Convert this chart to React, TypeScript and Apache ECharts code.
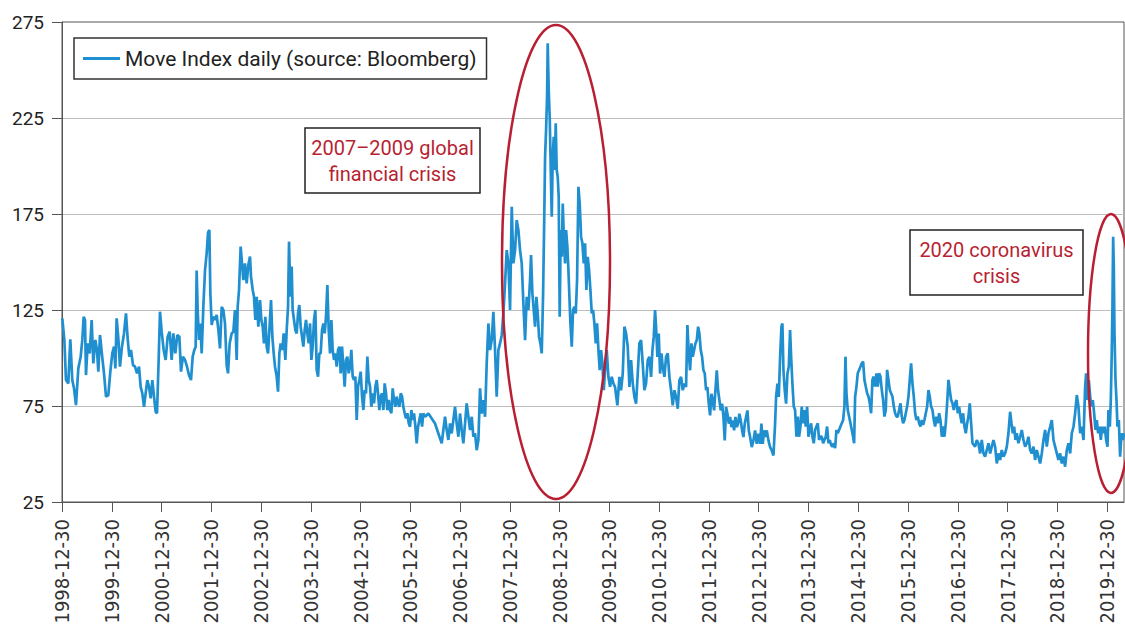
import React, { useEffect, useRef } from "react";
import * as echarts from "echarts";

const seriesName = "Move Index daily (source: Bloomberg)";

// x values are decimal years; the label "YYYY-12-30" sits at YYYY+1
const seg1Years = [1999.006,1999.047,1999.080,1999.127,1999.167,1999.207,1999.241,1999.281,1999.328,1999.375,1999.408,1999.435,1999.462,1999.482,1999.516,1999.556,1999.596,1999.629,1999.670,1999.703,1999.730,1999.763,1999.804,1999.844,1999.884,1999.931,1999.971,2000.011,2000.045,2000.072,2000.098,2000.132,2000.165,2000.205,2000.246,2000.286,2000.319,2000.353,2000.386,2000.427,2000.467,2000.507,2000.547,2000.581,2000.614,2000.648,2000.681,2000.715,2000.748,2000.782,2000.815,2000.849,2000.882,2000.909,2000.942,2000.969,2001.003,2001.043,2001.083,2001.123,2001.163,2001.204,2001.237,2001.277,2001.318,2001.358,2001.391,2001.431,2001.472,2001.512,2001.552,2001.592,2001.626,2001.659,2001.686,2001.706,2001.726,2001.753,2001.780,2001.807,2001.840,2001.874,2001.907,2001.934,2001.961,2001.981,2002.008,2002.041,2002.075,2002.108,2002.142,2002.175,2002.209,2002.242,2002.275,2002.309,2002.336,2002.369,2002.409,2002.443,2002.476,2002.510,2002.530,2002.557,2002.590];
const seg1Values = [120.7,109.4,88.5,86.8,109.7,88.5,84.2,75.5,94.6,100.7,109.4,121.5,119.8,91.1,107.6,102.4,119.8,97.2,109.4,104.2,92.9,112.0,101.6,92.0,79.9,80.7,92.9,102.4,105.9,94.6,120.7,110.2,95.5,105.9,112.8,123.3,110.2,100.7,104.2,96.3,95.5,92.0,95.5,85.0,81.6,74.6,81.6,88.5,85.0,79.0,88.5,79.9,72.0,71.2,99.0,124.1,113.7,104.2,99.0,111.1,113.7,99.0,112.8,102.4,112.0,111.1,92.9,100.7,99.0,95.5,91.1,88.5,100.7,104.2,105.9,145.5,125.0,109.4,118.0,102.4,126.7,145.8,154.5,165.3,166.7,133.7,117.2,121.5,119.8,122.4,114.6,105.0,126.7,125.0,118.0,96.3,92.0,107.6,112.8,113.7,125.0,99.0,126.7,135.4,158.0];

const seg2Years = [2002.644,2002.677,2002.711,2002.744,2002.778,2002.798,2002.832,2002.858,2002.885,2002.912,2002.945,2002.979,2003.006,2003.033,2003.059,2003.086,2003.113,2003.140,2003.167,2003.200,2003.227,2003.254,2003.280,2003.314,2003.341,2003.368,2003.394,2003.428,2003.455,2003.488,2003.515,2003.542,2003.562,2003.589,2003.615,2003.635,2003.662,2003.689,2003.716,2003.743,2003.769,2003.796,2003.823,2003.850,2003.877,2003.903,2003.930,2003.957,2003.984,2004.011,2004.037,2004.064,2004.091,2004.118,2004.145,2004.171,2004.198,2004.225,2004.252,2004.279,2004.305,2004.332,2004.359,2004.386,2004.413,2004.439,2004.466,2004.493,2004.520,2004.547,2004.573,2004.600,2004.627,2004.654,2004.680,2004.707,2004.734,2004.761,2004.788,2004.814,2004.841,2004.868,2004.895,2004.922,2004.948,2004.975,2005.002,2005.029,2005.056,2005.082,2005.109,2005.136,2005.163,2005.190,2005.216,2005.243,2005.270,2005.297,2005.324,2005.350,2005.377,2005.404,2005.431,2005.458,2005.484,2005.511,2005.538,2005.565,2005.592,2005.618,2005.645,2005.672,2005.699,2005.726,2005.752,2005.779,2005.806,2005.833,2005.859,2005.886,2005.913,2005.940,2005.967,2005.993,2006.020,2006.047,2006.074,2006.101,2006.127,2006.154,2006.181,2006.208,2006.235,2006.261,2006.295];
const seg2Values = [140.6,149.3,138.9,148.4,152.8,142.4,135.4,131.9,119.8,131.9,116.3,130.2,119.8,116.3,107.6,121.5,105.9,102.4,114.6,130.2,111.1,102.4,95.5,90.3,82.5,102.4,107.6,104.2,112.8,99.0,114.6,126.7,160.6,131.9,147.6,125.0,119.8,114.6,112.8,123.3,127.6,116.3,111.1,105.9,114.6,119.8,112.8,107.6,118.0,99.0,105.9,119.8,125.0,93.7,90.3,102.4,102.4,114.6,118.0,112.8,121.5,138.0,114.6,102.4,119.8,104.2,99.0,102.4,95.5,104.2,105.9,92.0,105.9,95.5,85.1,99.0,100.7,92.0,95.5,104.2,90.3,88.5,90.3,67.7,85.1,88.5,92.9,79.9,72.9,83.3,81.6,100.7,88.5,85.1,74.6,81.6,76.4,85.1,88.5,81.6,72.9,79.9,81.6,72.9,86.8,81.6,72.9,78.1,72.9,71.2,84.2,78.1,74.6,79.9,76.4,74.6,81.6,79.9,74.6,71.2,68.6,71.2,66.0,64.2,72.9,67.7,71.2,64.2,55.5,64.2,67.7,71.2,64.2,71.2,69.4];

const seg3Years = [2006.362,2006.429,2006.496,2006.563,2006.630,2006.663,2006.697,2006.730,2006.764,2006.797,2006.831,2006.864,2006.898,2006.931,2006.965,2006.998,2007.032,2007.065,2007.099,2007.132,2007.166,2007.199,2007.233,2007.266,2007.300,2007.333,2007.367,2007.400,2007.434,2007.467,2007.501,2007.534,2007.568,2007.601,2007.635,2007.668,2007.702,2007.735,2007.769,2007.802,2007.836,2007.869,2007.903,2007.936,2007.970,2008.003,2008.037,2008.070,2008.104,2008.137,2008.171,2008.204,2008.238,2008.271,2008.305,2008.338,2008.372,2008.405,2008.425,2008.452,2008.479,2008.506,2008.532,2008.559,2008.586,2008.613,2008.640,2008.666,2008.687,2008.707,2008.727,2008.747,2008.760,2008.780,2008.800,2008.821,2008.841,2008.861,2008.881,2008.901,2008.921,2008.941,2008.961,2008.981,2009.001,2009.021,2009.042,2009.062,2009.088,2009.109,2009.129,2009.155,2009.176,2009.196,2009.216,2009.243,2009.269,2009.296,2009.323,2009.350,2009.377,2009.403,2009.430,2009.457,2009.484,2009.511,2009.537,2009.564,2009.591,2009.618,2009.645,2009.671,2009.698,2009.725,2009.752,2009.779,2009.805,2009.832,2009.859,2009.886,2009.913,2009.946,2009.979,2010.013,2010.046,2010.080];
const seg3Values = [71.1,68.5,65.9,60.7,55.5,62.5,69.4,62.5,57.3,65.9,60.7,67.7,74.6,65.9,59.0,71.1,62.5,55.5,65.9,76.4,69.4,62.5,69.4,59.0,60.7,52.0,57.3,84.2,71.1,78.1,69.4,97.2,118.0,104.1,109.3,124.1,104.1,79.8,104.1,107.6,111.9,123.2,138.9,156.2,149.3,125.0,178.8,149.3,156.2,171.8,166.6,156.2,149.3,128.4,109.3,131.9,125.0,140.6,153.6,133.6,125.0,116.3,131.9,123.2,111.1,107.6,102.4,131.9,166.6,204.8,218.7,236.1,263.9,239.6,225.7,197.9,173.6,204.8,215.2,197.9,222.2,197.9,194.4,184.0,121.5,166.6,152.7,180.5,159.7,149.3,166.6,157.9,145.8,131.9,118.0,105.9,125.0,126.7,123.2,140.6,189.2,180.5,163.2,159.7,149.3,159.7,135.4,152.7,145.8,135.4,123.2,125.0,118.0,107.6,118.0,104.1,93.7,104.1,97.2,83.3,93.7,104.1,90.2,85.0,90.2,86.8];

const seg4Years = [2010.113,2010.160,2010.201,2010.234,2010.268,2010.301,2010.335,2010.368,2010.402,2010.435,2010.469,2010.502,2010.536,2010.569,2010.602,2010.636,2010.669,2010.703,2010.736,2010.770,2010.803,2010.837,2010.864,2010.891,2010.917,2010.937,2010.964,2010.991,2011.018,2011.045,2011.071,2011.105,2011.138,2011.172,2011.205,2011.239,2011.272,2011.306,2011.339,2011.373,2011.406,2011.440,2011.473,2011.507,2011.540,2011.567,2011.594,2011.621,2011.648,2011.674,2011.701,2011.728,2011.755,2011.782,2011.808,2011.835,2011.862,2011.889,2011.916,2011.942,2011.969,2011.996,2012.023,2012.050,2012.076,2012.103,2012.130,2012.157,2012.183,2012.210,2012.237,2012.264,2012.291,2012.317,2012.344,2012.371,2012.398,2012.425,2012.451,2012.478,2012.505,2012.532,2012.559,2012.585,2012.612,2012.639,2012.666,2012.693,2012.719,2012.746,2012.773,2012.800,2012.827,2012.860,2012.894,2012.927,2012.961,2012.994,2013.028,2013.054,2013.081,2013.108,2013.135,2013.162,2013.195,2013.229,2013.262,2013.296,2013.329,2013.349,2013.376,2013.403,2013.430,2013.456,2013.476,2013.497,2013.523,2013.550,2013.577,2013.604];
const seg4Values = [84.9,75.3,90.2,83.2,91.9,116.3,112.8,105.8,84.9,98.9,86.7,79.7,76.2,91.9,107.6,109.3,97.1,83.2,86.7,98.9,100.6,90.2,104.1,111.1,125.0,116.3,100.6,112.8,91.9,102.4,95.4,90.2,100.6,102.4,90.2,83.2,75.3,83.2,79.7,73.6,88.4,90.2,83.2,86.7,84.9,117.2,102.4,93.6,107.6,100.6,104.1,107.6,109.3,116.3,112.8,104.1,100.6,93.6,91.9,83.2,84.9,76.2,70.1,81.4,78.0,72.7,83.2,93.6,83.2,78.0,72.7,76.2,69.3,57.1,74.5,71.0,65.8,69.3,64.0,67.5,62.3,69.3,64.0,65.8,71.0,67.5,62.3,58.8,65.8,69.3,72.7,62.3,58.8,53.6,57.1,62.3,55.3,60.5,55.3,65.8,55.3,62.3,58.8,62.3,57.1,53.6,51.8,49.2,65.8,79.7,86.7,79.7,100.6,116.3,118.0,93.6,83.2,76.2,91.9,95.4];

const seg5Years = [2013.630,2013.651,2013.677,2013.704,2013.731,2013.758,2013.785,2013.811,2013.838,2013.865,2013.892,2013.919,2013.945,2013.972,2013.999,2014.026,2014.053,2014.079,2014.106,2014.133,2014.160,2014.187,2014.213,2014.240,2014.267,2014.294,2014.320,2014.347,2014.374,2014.401,2014.428,2014.454,2014.481,2014.508,2014.535,2014.562,2014.588,2014.615,2014.642,2014.669,2014.696,2014.722,2014.743,2014.763,2014.789,2014.816,2014.843,2014.870,2014.897,2014.917,2014.937,2014.964,2014.990,2015.017,2015.044,2015.071,2015.098,2015.124,2015.151,2015.178,2015.205,2015.232,2015.258,2015.285,2015.312,2015.339,2015.366,2015.392,2015.419,2015.446,2015.473,2015.500,2015.526,2015.553,2015.580,2015.607,2015.634,2015.660,2015.687,2015.714,2015.741,2015.768,2015.794,2015.821,2015.848,2015.875,2015.901,2015.928,2015.955,2015.982,2016.009,2016.035,2016.062,2016.089,2016.116,2016.143,2016.169,2016.196,2016.223,2016.250,2016.277,2016.303,2016.330,2016.357,2016.384,2016.411,2016.437,2016.464,2016.491,2016.518,2016.545,2016.571,2016.598,2016.625,2016.652,2016.679,2016.705,2016.732,2016.759,2016.786,2016.813,2016.839,2016.866,2016.893,2016.920,2016.947,2016.973,2017.000,2017.027,2017.054,2017.080,2017.107,2017.134,2017.161,2017.188,2017.214,2017.241,2017.268,2017.295,2017.322];
const seg5Values = [114.6,100.7,86.8,74.7,72.9,59.0,69.5,59.0,64.3,74.7,66.0,72.9,64.3,74.7,59.0,62.5,66.0,59.0,55.6,62.5,64.3,66.0,57.3,59.0,59.0,55.6,57.3,59.0,64.3,55.6,57.3,54.7,53.8,55.6,53.0,62.5,60.8,62.5,64.3,66.0,67.7,74.7,100.7,81.6,72.9,69.5,66.0,62.5,59.0,55.6,79.9,85.1,92.0,93.8,95.5,97.2,98.1,88.6,85.1,81.6,79.9,76.4,71.2,88.6,90.3,85.1,92.0,85.1,92.0,90.3,83.3,78.1,69.5,72.9,93.8,88.6,83.3,81.6,79.9,74.7,71.2,69.5,69.5,72.9,76.4,69.5,66.0,67.7,71.2,74.7,79.9,88.6,97.2,86.8,79.9,71.2,67.7,69.5,66.0,64.3,67.7,65.1,67.7,71.2,74.7,83.3,79.9,74.7,72.9,67.7,64.3,69.5,66.0,71.2,67.7,59.0,64.3,59.0,66.0,76.4,88.6,83.3,78.1,76.4,72.9,76.4,78.1,71.2,74.7,69.5,66.0,71.2,64.3,60.8,66.0,69.5,76.4,66.0,55.6,54.7];

const seg6Years = [2017.348,2017.382,2017.415,2017.449,2017.482,2017.516,2017.549,2017.583,2017.616,2017.650,2017.683,2017.717,2017.750,2017.784,2017.817,2017.851,2017.884,2017.918,2017.951,2017.985,2018.018,2018.052,2018.079,2018.105,2018.132,2018.159,2018.186,2018.219,2018.253,2018.286,2018.320,2018.353,2018.387,2018.420,2018.454,2018.487,2018.521,2018.554,2018.588,2018.621,2018.655,2018.688,2018.722,2018.755,2018.789,2018.822,2018.856,2018.889,2018.923,2018.956,2018.990,2019.023,2019.057,2019.090,2019.124,2019.157,2019.191,2019.224,2019.258,2019.291,2019.325,2019.358,2019.392,2019.425,2019.459,2019.492,2019.526,2019.559,2019.579,2019.606,2019.633,2019.660,2019.686,2019.713,2019.740,2019.767,2019.794,2019.820,2019.847,2019.874,2019.901,2019.928,2019.954,2019.981,2020.008,2020.028,2020.055,2020.075,2020.095,2020.108,2020.122,2020.135,2020.149,2020.169,2020.189,2020.209,2020.236,2020.262,2020.289,2020.316,2020.343];
const seg6Values = [53.8,57.3,55.6,50.3,57.3,50.3,48.6,52.1,55.6,50.3,53.8,57.3,53.8,45.1,50.3,46.9,52.1,48.6,50.3,53.8,60.8,72.0,66.0,60.8,64.2,57.3,60.8,55.6,59.0,62.5,57.3,53.8,55.6,59.0,52.1,50.3,53.8,46.9,52.1,48.6,45.1,50.3,57.3,62.5,53.8,60.8,64.2,67.7,57.3,53.8,50.3,46.9,50.3,45.1,48.6,43.4,52.1,55.6,50.3,60.8,64.2,71.2,80.7,74.7,60.8,64.2,57.3,85.1,92.0,78.1,88.5,79.9,74.7,78.1,71.2,62.5,67.7,60.8,64.2,57.3,64.2,60.8,64.2,57.3,53.8,72.9,64.2,78.1,104.2,126.7,163.2,147.6,112.8,88.5,78.1,64.2,67.7,48.6,60.8,57.3,60.8];

const years = [...seg1Years, ...seg2Years, ...seg3Years, ...seg4Years, ...seg5Years, ...seg6Years];
const moveValues = [...seg1Values, ...seg2Values, ...seg3Values, ...seg4Values, ...seg5Values, ...seg6Values];

const RED = "#b81f32";
const LINE = "#1f8fd0";

export default function App() {
  const ref = useRef<HTMLDivElement>(null);
  useEffect(() => {
    if (!ref.current) return;
    const chart = echarts.init(ref.current, null, { renderer: "svg" });
    const data = years.map((y, i) => [y, moveValues[i]]);
    chart.setOption({
      animation: false,
      backgroundColor: "#ffffff",
      grid: {
        left: 62,
        right: 1,
        top: 22,
        bottom: 125,
        show: true,
        borderColor: "#555",
        borderWidth: 1,
        containLabel: false,
        outerBoundsMode: "none",
      },
      legend: {
        show: true,
        left: 74,
        top: 38,
        padding: [10, 10, 10, 9],
        icon: "rect",
        itemWidth: 37,
        itemHeight: 3,
        borderColor: "#333",
        borderWidth: 1.5,
        backgroundColor: "#fff",
        textStyle: { fontFamily: "Roboto", fontSize: 21, color: "#222" },
        data: [seriesName],
      },
      xAxis: {
        type: "value",
        min: 1999,
        max: 2020.34,
        interval: 1,
        axisLine: { show: true, lineStyle: { color: "#555", width: 1 } },
        axisTick: { show: true, length: 10, lineStyle: { color: "#555" } },
        splitLine: { show: false },
        axisLabel: {
          rotate: 90,
          margin: 17,
          fontSize: 20,
          fontFamily: '"Liberation Sans Narrow", "DejaVu Sans Condensed", sans-serif',
          color: "#333",
          showMaxLabel: false,
          formatter: (v: number) => `${Math.round(v) - 1}-12-30`,
        },
      },
      yAxis: {
        type: "value",
        min: 25,
        max: 275,
        interval: 50,
        axisLine: { show: true, lineStyle: { color: "#555", width: 1 } },
        axisTick: { show: true, length: 10, lineStyle: { color: "#555" } },
        splitLine: {
          show: true,
          lineStyle: { color: ["transparent", "#bdbdbd", "#bdbdbd", "#bdbdbd", "#bdbdbd", "transparent"], width: 1 },
        },
        axisLabel: { fontSize: 19, fontFamily: "Roboto", color: "#222", margin: 18 },
      },
      series: [
        {
          name: seriesName,
          type: "line",
          data,
          symbol: "none",
          showSymbol: false,
          lineStyle: { color: LINE, width: 2.7 },
          itemStyle: { color: LINE },
          z: 3,
        },
      ],
      graphic: [
        {
          type: "ellipse",
          z: 50,
          shape: { cx: 556, cy: 262, rx: 54, ry: 237 },
          style: { fill: "none", stroke: RED, lineWidth: 2.5 },
        },
        {
          type: "ellipse",
          z: 50,
          shape: { cx: 1111, cy: 353.5, rx: 23, ry: 139.5 },
          style: { fill: "none", stroke: RED, lineWidth: 2.5 },
        },
        {
          type: "rect",
          z: 50,
          shape: { x: 305, y: 128, width: 175, height: 65 },
          style: { fill: "#fff", stroke: "#222", lineWidth: 1.5 },
        },
        {
          type: "text",
          z: 51,
          x: 392.5,
          y: 160.5,
          style: {
            text: "2007–2009 global\nfinancial crisis",
            fill: RED,
            fontSize: 20,
            fontFamily: "Roboto",
            align: "center",
            verticalAlign: "middle",
            lineHeight: 26,
          },
        },
        {
          type: "rect",
          z: 50,
          shape: { x: 910, y: 230, width: 173, height: 65 },
          style: { fill: "#fff", stroke: "#222", lineWidth: 1.5 },
        },
        {
          type: "text",
          z: 51,
          x: 996.5,
          y: 262.5,
          style: {
            text: "2020 coronavirus\ncrisis",
            fill: RED,
            fontSize: 20,
            fontFamily: "Roboto",
            align: "center",
            verticalAlign: "middle",
            lineHeight: 26,
          },
        },
      ],
    });
    return () => chart.dispose();
  }, []);
  return <div ref={ref} style={{ position: "fixed", left: 0, top: 0, width: 1125, height: 627 }} />;
}
